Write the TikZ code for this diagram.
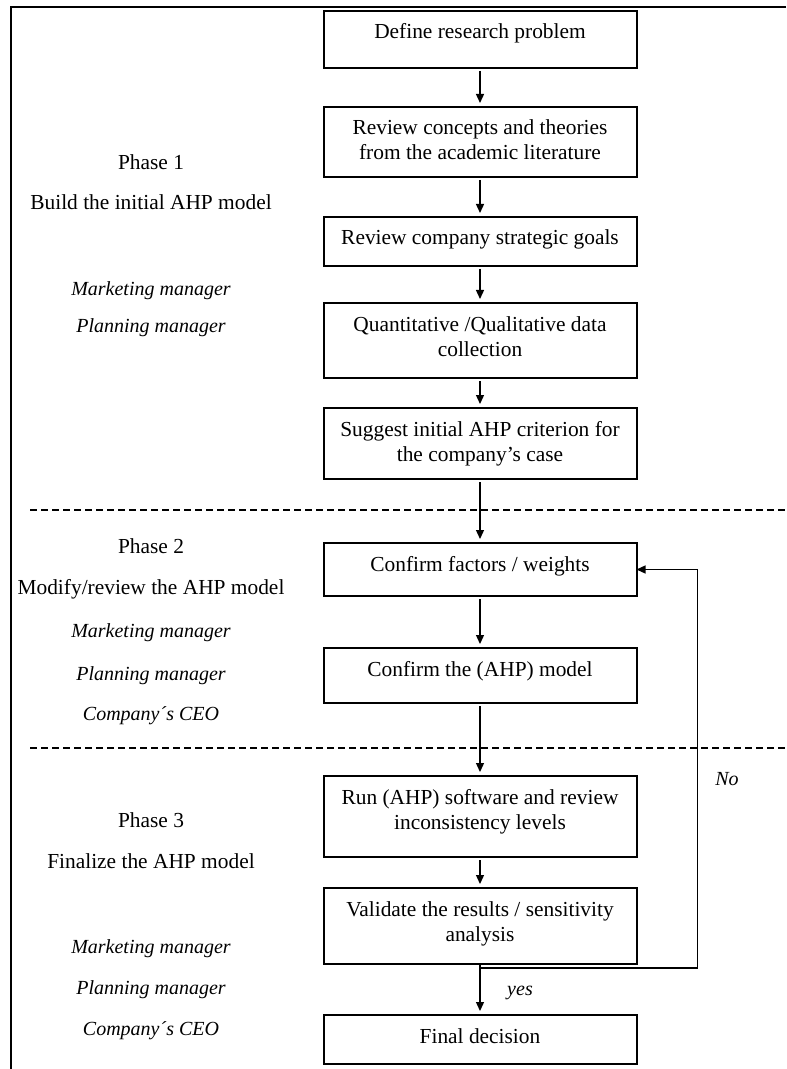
\documentclass[tikz,border=0pt]{standalone}
\usepackage{fontspec}
\setmainfont{Liberation Serif}
\usetikzlibrary{positioning,arrows.meta}
\tikzset{
 stage/.style={draw, line width=1pt, text width=146.5pt, inner xsep=5pt, inner ysep=0pt,
  outer sep=0pt, align=flush center, text height=14pt},
 flow/.style={-{Triangle[length=4.5pt,width=4pt]}, line width=0.65pt, shorten <=1.5pt, shorten >=2pt},
 phase/.style={align=center, text height=7.5pt, text depth=2.5pt},
 role/.style={phase, font=\itshape},
 divider/.style={line width=0.6pt, dash pattern=on 3.5pt off 2pt}
}

\begin{document}
\begin{tikzpicture}[font=\fontsize{10.7}{12.5}\selectfont]
 \useasboundingbox (0,0) rectangle (393pt,-534.5pt);
 % frame
 \draw [line width=1.1pt] (393pt,-3.5pt) -- (5.5pt,-3.5pt) -- (5.5pt,-534.5pt);
 \draw [divider] (15pt,-255pt) -- (393pt,-255pt);
 \draw [divider] (15pt,-374pt) -- (393pt,-374pt);

 % process boxes
 \node [stage, anchor=north, text depth=14.5pt] (define) at (240pt,-5.5pt) {Define research problem};
 \node [stage, text depth=21pt, below=19.5pt of define] (review) {Review concepts and theories\\ from the academic literature};
 \node [stage, text depth=10.5pt, below=20pt of review] (goals) {Review company strategic goals};
 \node [stage, text depth=23.5pt, below=18.5pt of goals] (collect) {Quantitative /Qualitative data\\ collection};
 \node [stage, text depth=21.5pt, below=15pt of collect] (suggest) {Suggest initial AHP criterion for\\ the company’s case};
 \node [stage, text depth=12.5pt, below=32pt of suggest] (factors) {Confirm factors / weights};
 \node [stage, text depth=13.5pt, below=26pt of factors] (confirm) {Confirm the (AHP) model};
 \node [stage, text depth=26.5pt, below=36.5pt of confirm] (software) {Run (AHP) software and review\\ inconsistency levels};
 \node [stage, text depth=24pt, below=15.5pt of software] (validate) {Validate the results / sensitivity\\ analysis};
 \node [stage, text depth=10.5pt, below=25.5pt of validate] (final) {Final decision};

 \draw [flow] (define) -- (review);
 \draw [flow] (review) -- (goals);
 \draw [flow] (goals) -- (collect);
 \draw [flow] (collect) -- (suggest);
 \draw [flow] (suggest) -- (factors);
 \draw [flow] (factors) -- (confirm);
 \draw [flow] (confirm) -- (software);
 \draw [flow] (software) -- (validate);

 % loop back
 \coordinate [below=2pt of validate.south] (split);
 \coordinate [right=30.5pt of factors.east] (turn);
 \draw [flow, shorten <=0pt, shorten >=0pt] (validate.south) -- (split) -| (turn) -- (factors.east);
 \draw [flow, shorten <=0pt] (split) -- (final);
 \node [role] (no) at (363.5pt,-390pt) {No};
 \node [role] (yes) at (260pt,-495pt) {yes};

 % phases
 \node [phase] (phase1) at (75.5pt,-82.5pt) {Phase 1};
 \node [phase] (build) at (75.5pt,-102.5pt) {Build the initial AHP model};
 \node [role] (mkt1) at (75.5pt,-145.5pt) {Marketing manager};
 \node [role] (plan1) at (75.5pt,-163.5pt) {Planning manager};

 \node [phase] (phase2) at (75.5pt,-274pt) {Phase 2};
 \node [phase] (modify) at (75.5pt,-294.5pt) {Modify/review the AHP model};
 \node [role] (mkt2) at (75.5pt,-316pt) {Marketing manager};
 \node [role] (plan2) at (75.5pt,-337.5pt) {Planning manager};
 \node [role] (ceo2) at (75.5pt,-357.5pt) {Company´s CEO};

 \node [phase] (phase3) at (75.5pt,-411pt) {Phase 3};
 \node [phase] (finalize) at (75.5pt,-431.5pt) {Finalize the AHP model};
 \node [role] (mkt3) at (75.5pt,-474pt) {Marketing manager};
 \node [role] (plan3) at (75.5pt,-494.5pt) {Planning manager};
 \node [role] (ceo3) at (75.5pt,-515pt) {Company´s CEO};
\end{tikzpicture}
\end{document}
